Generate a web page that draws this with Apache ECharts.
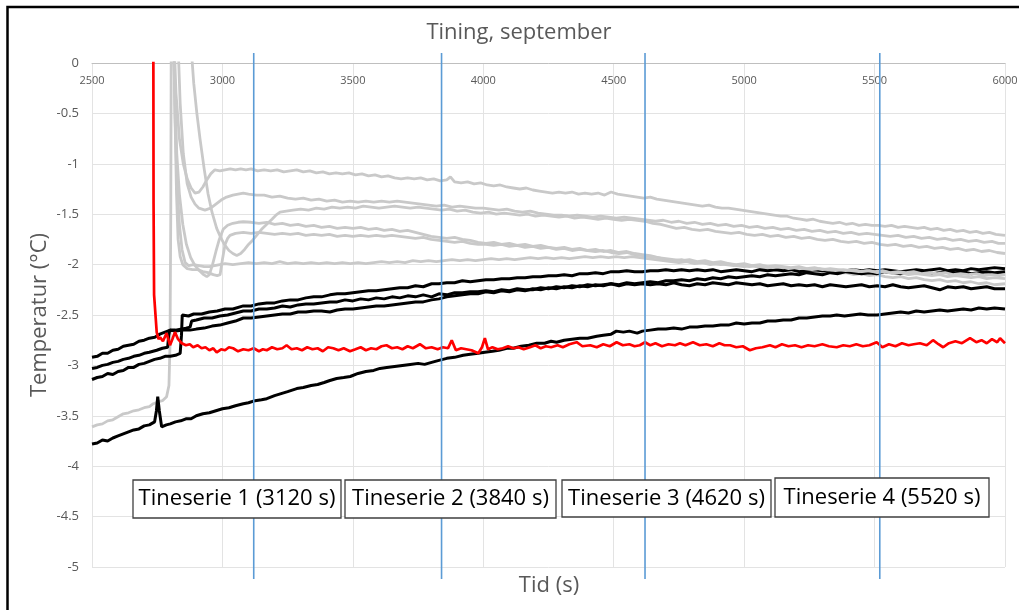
<!DOCTYPE html>
<html>
<head>
<meta charset="utf-8">
<title>Tining, september</title>
<script src="https://cdn.jsdelivr.net/npm/echarts@6/dist/echarts.min.js"></script>
<style>
  html, body { margin: 0; padding: 0; background: #ffffff; }
  #chart { width: 1019px; height: 610px; }
</style>
</head>
<body>
<div id="chart"></div>
<script>
// Time (s) of each thaw series, marked with a vertical line and a label box
const thawTimes = [3120, 3840, 4620, 5520];

// Temperature traces: [time (s), temperature (°C)]
const redTrace = [[2735,0.5],[2736,-1.4],[2738,-2.3],[2748,-2.67],[2755,-2.74],[2761,-2.72],[2772,-2.76],[2786,-2.68],[2799,-2.80],[2808,-2.74],[2818,-2.67],[2830,-2.74],[2844,-2.78],[2860,-2.80],[2875,-2.79],[2888,-2.82],[2905,-2.80],[2920,-2.83],[2935,-2.82],[2950,-2.85],[2965,-2.83],[2978,-2.87],[2995,-2.84],[3010,-2.85],[3025,-2.82],[3041,-2.83],[3060,-2.86],[3080,-2.84],[3100,-2.85],[3120,-2.83],[3140,-2.86],[3155,-2.84],[3170,-2.85],[3190,-2.82],[3210,-2.84],[3230,-2.83],[3246,-2.80],[3265,-2.84],[3285,-2.83],[3305,-2.85],[3325,-2.82],[3345,-2.84],[3365,-2.83],[3385,-2.86],[3405,-2.82],[3425,-2.83],[3445,-2.85],[3465,-2.83],[3489,-2.86],[3510,-2.84],[3530,-2.82],[3550,-2.85],[3570,-2.83],[3590,-2.84],[3610,-2.81],[3629,-2.80],[3650,-2.83],[3670,-2.82],[3690,-2.84],[3710,-2.81],[3730,-2.83],[3757,-2.79],[3780,-2.83],[3802,-2.82],[3825,-2.84],[3845,-2.82],[3865,-2.83],[3879,-2.75],[3895,-2.85],[3915,-2.83],[3935,-2.84],[3955,-2.85],[3981,-2.88],[3995,-2.82],[4006,-2.73],[4018,-2.84],[4035,-2.82],[4055,-2.84],[4075,-2.83],[4095,-2.81],[4115,-2.83],[4135,-2.82],[4155,-2.84],[4179,-2.82],[4200,-2.80],[4220,-2.83],[4240,-2.81],[4260,-2.82],[4285,-2.80],[4305,-2.82],[4330,-2.79],[4358,-2.77],[4380,-2.81],[4410,-2.80],[4435,-2.82],[4460,-2.79],[4485,-2.81],[4511,-2.77],[4535,-2.80],[4560,-2.79],[4580,-2.81],[4600,-2.80],[4620,-2.77],[4640,-2.80],[4660,-2.78],[4685,-2.81],[4710,-2.79],[4735,-2.80],[4754,-2.78],[4775,-2.80],[4804,-2.77],[4830,-2.80],[4855,-2.79],[4880,-2.81],[4905,-2.78],[4925,-2.80],[4946,-2.80],[4970,-2.82],[4995,-2.81],[5022,-2.85],[5045,-2.83],[5070,-2.82],[5099,-2.80],[5120,-2.82],[5145,-2.79],[5170,-2.81],[5195,-2.80],[5220,-2.82],[5245,-2.80],[5270,-2.81],[5300,-2.79],[5325,-2.81],[5355,-2.82],[5380,-2.80],[5405,-2.81],[5430,-2.79],[5455,-2.81],[5480,-2.80],[5508,-2.77],[5530,-2.82],[5555,-2.79],[5580,-2.81],[5605,-2.78],[5630,-2.80],[5650,-2.79],[5674,-2.78],[5700,-2.80],[5724,-2.75],[5745,-2.79],[5763,-2.82],[5785,-2.78],[5810,-2.76],[5835,-2.78],[5866,-2.73],[5890,-2.77],[5910,-2.75],[5930,-2.78],[5950,-2.74],[5970,-2.77],[5981,-2.73],[6000,-2.78]];

const blackA = [[2500,-2.92],[2520,-2.91],[2540,-2.88],[2560,-2.88],[2580,-2.85],[2600,-2.84],[2620,-2.81],[2640,-2.80],[2660,-2.79],[2680,-2.76],[2700,-2.75],[2720,-2.73],[2741,-2.72],[2760,-2.69],[2780,-2.67],[2800,-2.65],[2820,-2.65],[2840,-2.64],[2860,-2.63],[2876,-2.62],[2882,-2.56],[2900,-2.55],[2930,-2.53],[2960,-2.53],[2990,-2.51],[3020,-2.50],[3050,-2.48],[3080,-2.46],[3110,-2.46],[3140,-2.44],[3170,-2.44],[3200,-2.43],[3230,-2.41],[3260,-2.42],[3290,-2.40],[3320,-2.39],[3350,-2.39],[3380,-2.38],[3412,-2.37],[3440,-2.37],[3470,-2.35],[3500,-2.36],[3530,-2.34],[3560,-2.35],[3590,-2.33],[3620,-2.34],[3650,-2.32],[3680,-2.33],[3710,-2.31],[3740,-2.32],[3770,-2.30],[3802,-2.32],[3830,-2.29],[3860,-2.30],[3890,-2.28],[3920,-2.28],[3950,-2.27],[3980,-2.27],[4010,-2.26],[4040,-2.27],[4070,-2.25],[4100,-2.26],[4130,-2.24],[4160,-2.25],[4190,-2.25],[4220,-2.23],[4250,-2.24],[4280,-2.22],[4310,-2.23],[4340,-2.21],[4370,-2.22],[4400,-2.20],[4430,-2.21],[4460,-2.20],[4490,-2.19],[4520,-2.20],[4550,-2.18],[4580,-2.19],[4610,-2.18],[4640,-2.17],[4670,-2.18],[4700,-2.16],[4730,-2.16],[4760,-2.15],[4790,-2.16],[4820,-2.14],[4850,-2.15],[4880,-2.13],[4910,-2.14],[4940,-2.12],[4970,-2.13],[5000,-2.12],[5030,-2.11],[5060,-2.12],[5090,-2.10],[5120,-2.11],[5150,-2.10],[5180,-2.09],[5210,-2.10],[5240,-2.08],[5270,-2.09],[5300,-2.10],[5330,-2.08],[5360,-2.09],[5390,-2.07],[5420,-2.08],[5450,-2.09],[5480,-2.08],[5510,-2.09],[5540,-2.07],[5570,-2.08],[5600,-2.09],[5630,-2.07],[5660,-2.08],[5690,-2.07],[5720,-2.09],[5750,-2.08],[5780,-2.07],[5810,-2.08],[5840,-2.07],[5870,-2.09],[5900,-2.08],[5930,-2.07],[5960,-2.08],[6000,-2.07]];

const blackB = [[2500,-3.03],[2520,-3.02],[2540,-3.00],[2560,-2.99],[2580,-2.97],[2600,-2.96],[2620,-2.94],[2640,-2.93],[2660,-2.91],[2680,-2.90],[2700,-2.88],[2720,-2.87],[2748,-2.85],[2770,-2.83],[2790,-2.82],[2794,-2.70],[2798,-2.65],[2820,-2.66],[2850,-2.65],[2876,-2.65],[2900,-2.64],[2930,-2.63],[2960,-2.61],[2990,-2.60],[3020,-2.58],[3050,-2.56],[3080,-2.53],[3110,-2.53],[3140,-2.52],[3170,-2.51],[3200,-2.50],[3230,-2.49],[3260,-2.49],[3290,-2.47],[3320,-2.47],[3350,-2.46],[3380,-2.46],[3412,-2.47],[3440,-2.45],[3470,-2.44],[3500,-2.44],[3530,-2.43],[3560,-2.42],[3590,-2.41],[3620,-2.41],[3650,-2.40],[3680,-2.39],[3710,-2.38],[3740,-2.37],[3770,-2.37],[3802,-2.35],[3830,-2.34],[3860,-2.32],[3890,-2.31],[3920,-2.30],[3950,-2.29],[3980,-2.29],[4010,-2.27],[4040,-2.28],[4070,-2.26],[4100,-2.27],[4130,-2.25],[4160,-2.26],[4190,-2.24],[4220,-2.25],[4250,-2.23],[4280,-2.24],[4310,-2.22],[4340,-2.23],[4370,-2.21],[4400,-2.22],[4430,-2.20],[4460,-2.21],[4490,-2.19],[4520,-2.21],[4550,-2.19],[4580,-2.20],[4610,-2.19],[4640,-2.20],[4670,-2.19],[4700,-2.20],[4730,-2.18],[4760,-2.20],[4790,-2.21],[4820,-2.19],[4850,-2.20],[4880,-2.18],[4910,-2.19],[4940,-2.20],[4970,-2.18],[5000,-2.19],[5030,-2.20],[5060,-2.19],[5090,-2.21],[5120,-2.20],[5150,-2.19],[5180,-2.21],[5210,-2.20],[5240,-2.21],[5270,-2.20],[5300,-2.22],[5330,-2.20],[5360,-2.21],[5390,-2.22],[5420,-2.21],[5450,-2.20],[5480,-2.22],[5510,-2.21],[5540,-2.22],[5570,-2.20],[5600,-2.22],[5630,-2.23],[5660,-2.22],[5690,-2.21],[5720,-2.23],[5750,-2.25],[5780,-2.22],[5810,-2.23],[5840,-2.22],[5870,-2.24],[5900,-2.23],[5930,-2.22],[5960,-2.24],[6000,-2.24]];

const blackC = [[2500,-3.14],[2520,-3.12],[2540,-3.11],[2560,-3.08],[2580,-3.09],[2600,-3.06],[2620,-3.05],[2640,-3.02],[2660,-3.02],[2680,-2.99],[2700,-2.98],[2720,-2.96],[2740,-2.94],[2760,-2.93],[2780,-2.91],[2800,-2.91],[2820,-2.90],[2838,-2.88],[2843,-2.70],[2846,-2.50],[2870,-2.51],[2890,-2.49],[2920,-2.49],[2950,-2.47],[2980,-2.46],[3010,-2.44],[3040,-2.44],[3080,-2.41],[3110,-2.41],[3140,-2.39],[3170,-2.38],[3200,-2.38],[3230,-2.36],[3260,-2.35],[3290,-2.35],[3320,-2.33],[3350,-2.32],[3380,-2.32],[3412,-2.30],[3440,-2.29],[3470,-2.29],[3500,-2.28],[3530,-2.27],[3560,-2.26],[3590,-2.26],[3620,-2.25],[3650,-2.24],[3680,-2.23],[3710,-2.23],[3740,-2.21],[3770,-2.22],[3802,-2.19],[3830,-2.19],[3860,-2.18],[3890,-2.18],[3920,-2.16],[3950,-2.17],[3980,-2.16],[4010,-2.15],[4040,-2.15],[4070,-2.14],[4100,-2.14],[4130,-2.13],[4160,-2.13],[4190,-2.12],[4220,-2.12],[4250,-2.11],[4280,-2.11],[4310,-2.10],[4340,-2.11],[4370,-2.09],[4400,-2.09],[4430,-2.08],[4460,-2.09],[4490,-2.07],[4520,-2.07],[4550,-2.06],[4580,-2.07],[4610,-2.07],[4640,-2.06],[4670,-2.06],[4700,-2.05],[4730,-2.06],[4760,-2.05],[4790,-2.06],[4820,-2.05],[4850,-2.06],[4880,-2.05],[4910,-2.07],[4940,-2.06],[4970,-2.05],[5000,-2.06],[5030,-2.07],[5060,-2.05],[5090,-2.06],[5120,-2.05],[5150,-2.06],[5180,-2.05],[5210,-2.07],[5240,-2.06],[5270,-2.05],[5300,-2.06],[5330,-2.05],[5360,-2.07],[5390,-2.06],[5420,-2.05],[5450,-2.06],[5480,-2.05],[5510,-2.06],[5540,-2.05],[5570,-2.06],[5600,-2.07],[5630,-2.06],[5660,-2.05],[5690,-2.06],[5720,-2.05],[5750,-2.04],[5780,-2.06],[5810,-2.05],[5840,-2.06],[5870,-2.04],[5900,-2.05],[5930,-2.04],[5960,-2.03],[6000,-2.04]];

const blackD = [[2500,-3.78],[2520,-3.77],[2540,-3.74],[2560,-3.75],[2580,-3.72],[2600,-3.70],[2620,-3.68],[2640,-3.66],[2660,-3.64],[2680,-3.63],[2700,-3.60],[2720,-3.59],[2740,-3.56],[2747,-3.45],[2752,-3.31],[2758,-3.45],[2767,-3.61],[2785,-3.59],[2800,-3.58],[2820,-3.56],[2840,-3.55],[2860,-3.53],[2880,-3.53],[2900,-3.50],[2925,-3.48],[2950,-3.47],[2975,-3.45],[3000,-3.43],[3025,-3.42],[3050,-3.40],[3080,-3.38],[3100,-3.37],[3125,-3.35],[3150,-3.34],[3170,-3.33],[3200,-3.30],[3225,-3.28],[3250,-3.26],[3285,-3.23],[3310,-3.22],[3340,-3.20],[3365,-3.19],[3390,-3.17],[3412,-3.15],[3438,-3.13],[3465,-3.12],[3490,-3.11],[3520,-3.08],[3550,-3.06],[3580,-3.05],[3604,-3.03],[3630,-3.02],[3660,-3.01],[3690,-3.00],[3720,-2.99],[3750,-2.98],[3775,-2.99],[3802,-2.97],[3830,-2.95],[3860,-2.93],[3890,-2.92],[3923,-2.90],[3950,-2.89],[3980,-2.88],[4006,-2.87],[4035,-2.86],[4060,-2.85],[4090,-2.83],[4115,-2.83],[4145,-2.81],[4175,-2.80],[4205,-2.78],[4235,-2.78],[4260,-2.76],[4281,-2.77],[4310,-2.75],[4340,-2.74],[4370,-2.73],[4400,-2.73],[4435,-2.71],[4460,-2.70],[4490,-2.69],[4510,-2.66],[4537,-2.67],[4560,-2.66],[4590,-2.68],[4610,-2.66],[4640,-2.65],[4670,-2.64],[4700,-2.64],[4730,-2.63],[4760,-2.64],[4790,-2.62],[4820,-2.62],[4850,-2.61],[4880,-2.61],[4910,-2.60],[4940,-2.60],[4970,-2.58],[5000,-2.59],[5030,-2.58],[5060,-2.58],[5090,-2.56],[5120,-2.56],[5150,-2.55],[5180,-2.55],[5210,-2.53],[5240,-2.53],[5270,-2.52],[5300,-2.51],[5330,-2.51],[5355,-2.50],[5385,-2.51],[5415,-2.50],[5445,-2.49],[5475,-2.50],[5510,-2.50],[5540,-2.49],[5570,-2.48],[5600,-2.47],[5630,-2.48],[5660,-2.46],[5690,-2.47],[5720,-2.46],[5750,-2.45],[5780,-2.46],[5810,-2.45],[5840,-2.44],[5870,-2.45],[5900,-2.43],[5930,-2.44],[5960,-2.43],[6000,-2.44]];

const greyA = [[2812,0.4],[2822,-0.3],[2835,-0.75],[2850,-1.0],[2865,-1.15],[2880,-1.24],[2895,-1.29],[2910,-1.28],[2925,-1.23],[2940,-1.16],[2955,-1.10],[2971,-1.06],[2990,-1.07],[3010,-1.06],[3030,-1.05],[3050,-1.06],[3070,-1.05],[3090,-1.06],[3110,-1.05],[3135,-1.07],[3160,-1.06],[3185,-1.07],[3210,-1.06],[3235,-1.08],[3260,-1.07],[3285,-1.06],[3310,-1.08],[3335,-1.07],[3360,-1.09],[3385,-1.08],[3410,-1.10],[3435,-1.09],[3460,-1.10],[3485,-1.09],[3510,-1.11],[3535,-1.10],[3560,-1.12],[3585,-1.11],[3610,-1.13],[3635,-1.12],[3660,-1.14],[3685,-1.15],[3710,-1.14],[3735,-1.15],[3760,-1.14],[3785,-1.16],[3810,-1.15],[3835,-1.17],[3860,-1.16],[3874,-1.13],[3890,-1.18],[3915,-1.19],[3940,-1.18],[3965,-1.20],[3990,-1.19],[4015,-1.21],[4040,-1.22],[4065,-1.21],[4090,-1.23],[4115,-1.24],[4140,-1.25],[4165,-1.24],[4190,-1.26],[4215,-1.27],[4240,-1.28],[4265,-1.29],[4290,-1.28],[4315,-1.29],[4340,-1.28],[4365,-1.30],[4390,-1.29],[4415,-1.30],[4440,-1.29],[4465,-1.31],[4490,-1.28],[4515,-1.30],[4540,-1.31],[4565,-1.32],[4590,-1.33],[4615,-1.34],[4640,-1.33],[4665,-1.35],[4690,-1.36],[4715,-1.37],[4740,-1.38],[4765,-1.39],[4790,-1.40],[4815,-1.41],[4840,-1.42],[4865,-1.41],[4890,-1.43],[4915,-1.44],[4940,-1.44],[4965,-1.45],[4990,-1.46],[5015,-1.47],[5040,-1.48],[5065,-1.49],[5090,-1.50],[5115,-1.51],[5140,-1.52],[5165,-1.52],[5190,-1.54],[5215,-1.55],[5240,-1.56],[5265,-1.55],[5290,-1.57],[5315,-1.58],[5340,-1.59],[5365,-1.58],[5390,-1.60],[5415,-1.59],[5440,-1.61],[5465,-1.60],[5490,-1.61],[5515,-1.61],[5540,-1.62],[5565,-1.61],[5590,-1.63],[5615,-1.62],[5640,-1.63],[5665,-1.64],[5690,-1.63],[5715,-1.65],[5740,-1.64],[5765,-1.66],[5790,-1.65],[5815,-1.67],[5840,-1.66],[5865,-1.68],[5890,-1.67],[5915,-1.69],[5940,-1.68],[5965,-1.70],[6000,-1.71]];

const greyB = [[2827,0.4],[2838,-0.4],[2850,-0.9],[2865,-1.2],[2880,-1.33],[2895,-1.40],[2910,-1.44],[2933,-1.46],[2955,-1.44],[2975,-1.40],[2995,-1.36],[3016,-1.33],[3040,-1.31],[3060,-1.30],[3080,-1.29],[3100,-1.30],[3130,-1.31],[3160,-1.31],[3190,-1.33],[3220,-1.32],[3250,-1.34],[3280,-1.35],[3310,-1.34],[3340,-1.36],[3370,-1.35],[3400,-1.37],[3430,-1.36],[3460,-1.38],[3490,-1.37],[3520,-1.38],[3550,-1.37],[3580,-1.38],[3610,-1.37],[3640,-1.38],[3670,-1.37],[3700,-1.38],[3730,-1.39],[3760,-1.40],[3790,-1.41],[3820,-1.42],[3850,-1.41],[3880,-1.43],[3910,-1.42],[3940,-1.43],[3970,-1.44],[4000,-1.44],[4030,-1.45],[4060,-1.46],[4090,-1.45],[4120,-1.47],[4150,-1.48],[4180,-1.47],[4210,-1.49],[4240,-1.50],[4270,-1.51],[4300,-1.51],[4330,-1.52],[4360,-1.51],[4390,-1.52],[4420,-1.53],[4450,-1.52],[4480,-1.53],[4510,-1.54],[4540,-1.53],[4570,-1.54],[4600,-1.55],[4630,-1.56],[4660,-1.57],[4690,-1.56],[4720,-1.58],[4750,-1.57],[4780,-1.59],[4810,-1.58],[4840,-1.60],[4870,-1.59],[4900,-1.61],[4930,-1.60],[4960,-1.62],[4990,-1.61],[5020,-1.63],[5050,-1.62],[5080,-1.64],[5110,-1.63],[5140,-1.65],[5170,-1.64],[5200,-1.66],[5230,-1.65],[5260,-1.67],[5290,-1.66],[5320,-1.68],[5350,-1.67],[5380,-1.69],[5410,-1.68],[5440,-1.70],[5470,-1.69],[5500,-1.70],[5530,-1.71],[5560,-1.72],[5590,-1.71],[5620,-1.73],[5650,-1.72],[5680,-1.74],[5710,-1.73],[5740,-1.75],[5770,-1.74],[5800,-1.76],[5830,-1.75],[5860,-1.77],[5890,-1.76],[5920,-1.78],[5950,-1.77],[5975,-1.79],[6000,-1.79]];

const greyC = [[2876,0.3],[2890,-0.2],[2902,-0.5],[2914,-0.75],[2930,-1.05],[2945,-1.3],[2960,-1.48],[2978,-1.64],[2995,-1.74],[3010,-1.81],[3025,-1.86],[3040,-1.89],[3055,-1.91],[3070,-1.89],[3085,-1.85],[3100,-1.80],[3115,-1.76],[3131,-1.71],[3150,-1.65],[3170,-1.60],[3190,-1.55],[3205,-1.51],[3221,-1.48],[3245,-1.47],[3270,-1.46],[3300,-1.45],[3330,-1.46],[3360,-1.44],[3390,-1.45],[3420,-1.43],[3450,-1.44],[3480,-1.43],[3510,-1.44],[3540,-1.42],[3570,-1.43],[3600,-1.44],[3630,-1.43],[3660,-1.42],[3690,-1.43],[3720,-1.44],[3750,-1.43],[3780,-1.44],[3810,-1.45],[3840,-1.46],[3870,-1.45],[3900,-1.47],[3930,-1.46],[3960,-1.48],[3990,-1.49],[4020,-1.48],[4050,-1.50],[4080,-1.49],[4110,-1.50],[4140,-1.51],[4170,-1.50],[4200,-1.52],[4230,-1.51],[4260,-1.52],[4290,-1.53],[4320,-1.52],[4350,-1.54],[4380,-1.53],[4410,-1.54],[4440,-1.55],[4470,-1.54],[4500,-1.55],[4530,-1.56],[4560,-1.55],[4590,-1.56],[4620,-1.57],[4650,-1.59],[4680,-1.60],[4710,-1.62],[4740,-1.64],[4770,-1.63],[4800,-1.65],[4830,-1.66],[4860,-1.65],[4890,-1.67],[4920,-1.68],[4950,-1.69],[4980,-1.68],[5010,-1.70],[5040,-1.71],[5070,-1.70],[5100,-1.72],[5130,-1.71],[5160,-1.73],[5190,-1.72],[5220,-1.74],[5250,-1.73],[5280,-1.75],[5310,-1.76],[5340,-1.75],[5370,-1.77],[5400,-1.78],[5430,-1.77],[5460,-1.79],[5490,-1.78],[5520,-1.80],[5550,-1.81],[5580,-1.80],[5610,-1.82],[5640,-1.81],[5670,-1.83],[5700,-1.82],[5730,-1.84],[5760,-1.83],[5790,-1.85],[5820,-1.84],[5850,-1.86],[5880,-1.85],[5910,-1.87],[5940,-1.86],[5970,-1.88],[6000,-1.89]];

const greyD = [[2812,0.4],[2818,-0.3],[2825,-0.9],[2835,-1.3],[2848,-1.6],[2862,-1.8],[2878,-1.93],[2895,-2.01],[2912,-2.06],[2928,-2.10],[2940,-2.12],[2950,-2.10],[2962,-2.00],[2975,-1.87],[2988,-1.75],[3003,-1.65],[3020,-1.61],[3040,-1.59],[3060,-1.58],[3080,-1.575],[3110,-1.58],[3140,-1.59],[3170,-1.58],[3200,-1.60],[3230,-1.59],[3260,-1.61],[3290,-1.60],[3320,-1.62],[3350,-1.61],[3380,-1.63],[3410,-1.62],[3440,-1.64],[3470,-1.63],[3500,-1.64],[3530,-1.63],[3560,-1.65],[3590,-1.64],[3620,-1.66],[3650,-1.65],[3680,-1.67],[3710,-1.66],[3740,-1.68],[3770,-1.70],[3800,-1.72],[3830,-1.73],[3860,-1.74],[3890,-1.73],[3920,-1.75],[3950,-1.76],[3980,-1.78],[4010,-1.79],[4040,-1.78],[4070,-1.80],[4100,-1.79],[4130,-1.81],[4160,-1.80],[4190,-1.82],[4220,-1.81],[4250,-1.83],[4280,-1.84],[4310,-1.83],[4340,-1.85],[4370,-1.84],[4400,-1.86],[4430,-1.87],[4460,-1.86],[4490,-1.88],[4520,-1.89],[4550,-1.88],[4580,-1.90],[4610,-1.91],[4640,-1.92],[4670,-1.93],[4700,-1.94],[4730,-1.95],[4760,-1.96],[4790,-1.95],[4820,-1.97],[4850,-1.96],[4880,-1.98],[4910,-1.97],[4940,-1.99],[4970,-2.00],[5000,-1.99],[5030,-2.01],[5060,-2.00],[5090,-2.02],[5120,-2.01],[5150,-2.02],[5180,-2.03],[5210,-2.02],[5240,-2.04],[5270,-2.03],[5300,-2.05],[5330,-2.04],[5360,-2.05],[5390,-2.06],[5420,-2.05],[5450,-2.07],[5480,-2.06],[5510,-2.08],[5540,-2.07],[5570,-2.09],[5600,-2.08],[5630,-2.10],[5660,-2.09],[5690,-2.10],[5720,-2.11],[5750,-2.10],[5780,-2.12],[5810,-2.11],[5840,-2.12],[5870,-2.13],[5900,-2.12],[5930,-2.14],[5960,-2.13],[6000,-2.14]];

const greyE = [[2500,-3.61],[2520,-3.59],[2540,-3.58],[2560,-3.55],[2580,-3.54],[2600,-3.51],[2620,-3.48],[2640,-3.47],[2660,-3.45],[2680,-3.44],[2700,-3.42],[2720,-3.41],[2735,-3.38],[2755,-3.36],[2770,-3.35],[2786,-3.31],[2795,-3.2],[2799,-2.8],[2802,-1.5],[2804,0.5],[2812,0.5],[2818,-0.5],[2824,-1.3],[2830,-1.75],[2838,-1.92],[2848,-2.00],[2865,-2.04],[2885,-2.05],[2905,-2.05],[2925,-2.07],[2945,-2.08],[2965,-2.10],[2980,-2.11],[2991,-2.10],[3000,-1.95],[3010,-1.80],[3020,-1.74],[3029,-1.71],[3050,-1.69],[3080,-1.68],[3110,-1.69],[3140,-1.68],[3170,-1.69],[3200,-1.70],[3230,-1.69],[3260,-1.70],[3290,-1.69],[3320,-1.71],[3350,-1.70],[3380,-1.71],[3410,-1.70],[3440,-1.72],[3470,-1.71],[3500,-1.72],[3530,-1.71],[3560,-1.72],[3590,-1.71],[3620,-1.72],[3650,-1.71],[3680,-1.72],[3710,-1.73],[3740,-1.74],[3770,-1.73],[3800,-1.75],[3830,-1.76],[3860,-1.77],[3890,-1.78],[3920,-1.77],[3950,-1.79],[3980,-1.80],[4010,-1.80],[4040,-1.81],[4070,-1.80],[4100,-1.82],[4130,-1.81],[4160,-1.83],[4190,-1.82],[4220,-1.84],[4250,-1.83],[4280,-1.85],[4310,-1.84],[4340,-1.86],[4370,-1.85],[4400,-1.86],[4430,-1.85],[4460,-1.87],[4490,-1.86],[4520,-1.88],[4550,-1.87],[4580,-1.89],[4610,-1.90],[4640,-1.91],[4670,-1.93],[4700,-1.95],[4730,-1.96],[4760,-1.95],[4790,-1.97],[4820,-1.98],[4850,-1.97],[4880,-1.99],[4910,-2.00],[4940,-1.99],[4970,-2.01],[5000,-2.02],[5030,-2.01],[5060,-2.03],[5090,-2.04],[5120,-2.03],[5150,-2.05],[5180,-2.04],[5210,-2.06],[5240,-2.07],[5270,-2.06],[5300,-2.08],[5330,-2.07],[5360,-2.09],[5390,-2.08],[5420,-2.10],[5450,-2.09],[5480,-2.11],[5510,-2.10],[5540,-2.12],[5570,-2.13],[5600,-2.12],[5630,-2.14],[5660,-2.13],[5690,-2.15],[5720,-2.16],[5750,-2.15],[5780,-2.17],[5810,-2.16],[5840,-2.18],[5870,-2.17],[5900,-2.19],[5930,-2.18],[5960,-2.20],[6000,-2.19]];

const greyF = [[2812,0.4],[2818,-0.5],[2826,-1.2],[2835,-1.6],[2845,-1.85],[2857,-1.98],[2870,-2.01],[2890,-2.00],[2910,-2.01],[2930,-2.02],[2950,-2.02],[2970,-2.01],[2990,-2.00],[3010,-1.99],[3040,-2.00],[3070,-1.99],[3100,-1.98],[3130,-1.99],[3160,-1.98],[3190,-1.99],[3220,-1.97],[3250,-1.99],[3280,-1.98],[3310,-1.99],[3340,-1.98],[3370,-1.99],[3400,-1.98],[3430,-1.99],[3460,-1.98],[3490,-1.99],[3520,-1.98],[3550,-1.99],[3580,-1.98],[3610,-1.97],[3640,-1.98],[3670,-1.97],[3700,-1.98],[3730,-1.96],[3760,-1.97],[3790,-1.96],[3820,-1.97],[3850,-1.96],[3880,-1.95],[3910,-1.96],[3940,-1.95],[3970,-1.96],[4000,-1.95],[4030,-1.94],[4060,-1.95],[4090,-1.94],[4120,-1.95],[4150,-1.94],[4180,-1.93],[4210,-1.94],[4240,-1.93],[4270,-1.94],[4300,-1.93],[4330,-1.94],[4360,-1.93],[4390,-1.92],[4420,-1.93],[4450,-1.92],[4480,-1.93],[4510,-1.92],[4540,-1.93],[4570,-1.92],[4600,-1.93],[4630,-1.94],[4660,-1.95],[4690,-1.96],[4720,-1.97],[4750,-1.98],[4780,-1.97],[4810,-1.99],[4840,-1.98],[4870,-2.00],[4900,-1.99],[4930,-2.00],[4960,-2.01],[4990,-2.00],[5020,-2.02],[5050,-2.01],[5080,-2.02],[5110,-2.03],[5140,-2.02],[5170,-2.04],[5200,-2.03],[5230,-2.04],[5260,-2.05],[5290,-2.04],[5320,-2.05],[5350,-2.06],[5380,-2.05],[5410,-2.06],[5440,-2.07],[5470,-2.06],[5500,-2.07],[5530,-2.06],[5560,-2.08],[5590,-2.07],[5620,-2.08],[5650,-2.07],[5680,-2.09],[5710,-2.08],[5740,-2.09],[5770,-2.08],[5800,-2.10],[5830,-2.09],[5860,-2.10],[5890,-2.09],[5920,-2.11],[5950,-2.10],[5980,-2.11],[6000,-2.10]];

const FONT = '"Open Sans", "Liberation Sans", sans-serif';
const GREY = '#c9c9c9';

function trace(data, color, width, z) {
  return {
    type: 'line', data: data, symbol: 'none', showSymbol: false,
    lineStyle: { color: color, width: width }, itemStyle: { color: color },
    clip: true, z: z, silent: true, animation: false
  };
}

// Label boxes under the thaw-series markers
const boxes = [
  { x: 133, y: 480, w: 208, h: 38 },
  { x: 345, y: 480, w: 211, h: 38 },
  { x: 562, y: 480, w: 209, h: 37 },
  { x: 775, y: 478, w: 214, h: 39 }
];
const boxGraphics = thawTimes.map((t, i) => {
  const b = boxes[i];
  return {
    type: 'group', z: 100,
    children: [
      { type: 'rect', z: 100, shape: { x: b.x, y: b.y, width: b.w, height: b.h },
        style: { fill: '#ffffff', stroke: '#3f3f3f', lineWidth: 1.3 } },
      { type: 'text', z: 101, x: b.x + b.w / 2, y: b.y + b.h / 2,
        style: { text: 'Tineserie ' + (i + 1) + ' (' + t + ' s)', fill: '#000000',
                 font: '22px ' + FONT, textAlign: 'center', textVerticalAlign: 'middle' } }
    ]
  };
});

const chart = echarts.init(document.getElementById('chart'), null, { renderer: 'canvas' });
chart.setOption({
  animation: false,
  backgroundColor: '#ffffff',
  grid: { left: 92, right: 14, top: 63, bottom: 43, containLabel: false, outerBoundsMode: 'none' },
  xAxis: {
    type: 'value', min: 2500, max: 6000, interval: 500, position: 'top',
    axisLine: { show: true, onZero: false, lineStyle: { color: '#bfbfbf', width: 1 } },
    axisTick: { show: false },
    axisLabel: { inside: true, margin: 12, color: '#595959', fontSize: 11, fontFamily: FONT,
                 showMinLabel: true, showMaxLabel: true,
                 formatter: function (v) { return String(v); } },
    splitLine: { show: true, lineStyle: { color: '#e3e3e3', width: 1 } }
  },
  yAxis: {
    type: 'value', min: -5, max: 0, interval: 0.5,
    axisLine: { show: false }, axisTick: { show: false },
    axisLabel: { margin: 13, color: '#595959', fontSize: 13, fontFamily: FONT,
                 formatter: function (v) { return String(v); } },
    splitLine: { show: true, lineStyle: { color: '#e3e3e3', width: 1 } }
  },
  series: [
    trace(greyE, GREY, 2.8, 2),
    trace(blackD, '#000000', 3, 3),
    trace(blackC, '#000000', 3, 3),
    trace(blackB, '#000000', 3, 3),
    trace(blackA, '#000000', 3, 3),
    trace(greyA, GREY, 2.8, 4),
    trace(greyB, GREY, 2.8, 4),
    trace(greyC, GREY, 2.8, 4),
    trace(greyD, GREY, 2.8, 4),
    trace(greyF, GREY, 2.8, 4),
    trace(redTrace, '#ff0000', 2.7, 5),
    {
      // vertical markers at each thaw-series time, running a little past the plot area
      type: 'custom', z: 6, clip: false, silent: true,
      data: thawTimes.map(t => [t, 0]),
      encode: { x: 0, y: 1 },
      renderItem: function (params, api) {
        const top = api.coord([api.value(0), 0]);
        const bottom = api.coord([api.value(0), -5]);
        return {
          type: 'line',
          shape: { x1: top[0], y1: top[1] - 10, x2: bottom[0], y2: bottom[1] + 12 },
          style: { stroke: '#5b9bd5', lineWidth: 1.6 }
        };
      }
    }
  ],
  graphic: [
    { type: 'rect', z: 120, shape: { x: 7.5, y: 7, width: 1100, height: 700 },
      style: { fill: 'none', stroke: '#000000', lineWidth: 2.5 } },
    { type: 'text', z: 100, x: 519, y: 33,
      style: { text: 'Tining, september', fill: '#595959', font: '22px ' + FONT,
               textAlign: 'center', textVerticalAlign: 'middle' } },
    { type: 'text', z: 100, x: 40, y: 315, rotation: Math.PI / 2,
      style: { text: 'Temperatur (°C)', fill: '#595959', font: '22px ' + FONT,
               textAlign: 'center', textVerticalAlign: 'middle' } },
    { type: 'text', z: 100, x: 549, y: 586,
      style: { text: 'Tid (s)', fill: '#595959', font: '22px ' + FONT,
               textAlign: 'center', textVerticalAlign: 'middle' } }
  ].concat(boxGraphics)
});
</script>
</body>
</html>
